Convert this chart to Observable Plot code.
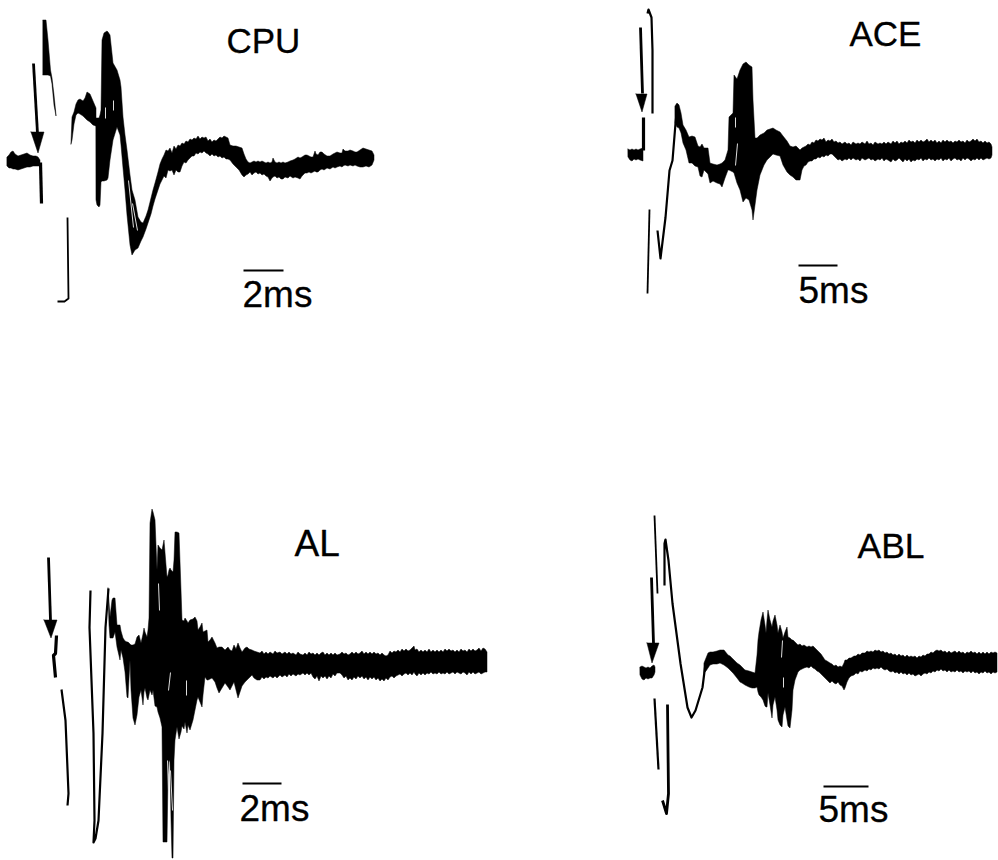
<!DOCTYPE html>
<html>
<head>
<meta charset="utf-8">
<style>html,body{margin:0;padding:0;background:#fff}svg{display:block}</style>
<script src="https://cdn.jsdelivr.net/npm/d3@7"></script>
<script src="https://cdn.jsdelivr.net/npm/@observablehq/plot@0.6"></script>
</head>
<body>
<div id="chart"></div>
<script>
// --- thick parts of the oscilloscope traces: [position, upper edge, lower edge]
const cpuBase = [[7,157,166],[9,155,168],[11,152,168],[13,151,169],[15,154,169],[18,156,170],[21,155,169],[24,154,168],[27,153,167],[30,155,167],[33,156,166],[36,156,166],[38,157,166],[40,160,166]];
const cpuUpper = [[43,20,75],[46,20,75],[48,40,75],[50.5,70,76],[52,78,84],[54,95,105],[56,115,116]];
const cpuEarly = [[71,143,144],[72,117,140],[74,112,124],[76,104,115],[78,100,113],[80,99,114],[83,101,116],[85,98,118],[87,92,120],[90,94,122],[93,101,125],[96,108,126]];
const cpuMain = [[96,118,200],[97,118,205],[99,118,207],[100,115,205],[101,110,182],[102,40,181],[104,33,181],[107,31,180],[108,32,178],[110,35,160],[113,63,140],[117,70,127],[120,80,135],[121,87,145],[123,117,168],[125,135,190],[127,150,215],[130,175,245],[132,190,255],[135,200,250],[138,217,248],[141,222,241],[143,223,237],[146,216,229],[148,210,223],[151,198,214],[153,190,206],[155,183,199],[158,172,190],[160,164,184],[162,159,180],[164,155,176],[166,150,178],[168,151,170],[170,148,171],[172,153,170],[174,146,175],[176,149,170],[178,145,172],[180,146,172],[182,143,166],[184,144,162],[186,141,163],[188,142,160],[190,139,158],[192,140,156],[194,138,156],[196,139,153],[198,136,154],[200,139,152],[202,137,153],[204,138,151],[206,137,153],[208,141,154],[210,139,156],[212,142,154],[214,140,156],[216,141,155],[218,139,157],[220,137,156],[222,138,158],[224,136,157],[226,137,159],[228,138,159],[230,145,160],[233,146,164],[236,146,167],[239,147,170],[242,148,175],[244,154,177],[246,159,175],[248,162,174],[250,163,172],[252,162,175],[254,161,173],[256,162,172],[258,161,174],[260,162,173],[262,161,175],[264,162,174],[266,163,176],[268,162,177],[270,163,181],[272,162,178],[273,158,177],[275,162,176],[277,163,178],[279,162,177],[281,163,179],[283,162,179],[285,163,177],[288,162,178],[290,161,176],[293,160,178],[295,159,177],[298,157,178],[300,158,179],[302,157,176],[305,155,173],[307,155,173],[309,156,172],[311,157,173],[313,157,172],[315,151,171],[316,154,172],[318,155,172],[320,152,170],[322,152,169],[324,154,170],[327,156,168],[330,156,169],[333,154,167],[335,153,168],[337,152,167],[340,153,166],[342,153,167],[343,149,166],[345,151,165],[348,151,166],[350,150,165],[353,151,166],[355,152,165],[357,152,166],[360,150,167],[363,148,167],[366,149,166],[369,150,167],[372,151,165],[374,155,160]];

const aceBase = [[628,149,157],[630,150,160],[632,149,161],[634,150,159],[636,149,160],[638,150,159],[640,149,160],[643,148,161]];
const aceMain = [[675,106,123],[677,103,127],[679,105,128],[681,113,133],[683,125,143],[686,130,150],[689,137,163],[692,136,163],[695,137,166],[698,146,167],[700,147,176],[702,144,177],[704,148,170],[708,148,174],[710,163,183],[713,164,181],[717,165,183],[720,164,184],[722,163,187],[725,160,178],[728,150,170],[729,117,170],[733,113,172],[734,75,173],[737,79,183],[740,70,190],[743,64,202],[746,62,198],[749,65,200],[752,67,210],[753,100,220],[755,138,205],[757,138,190],[760,135,175],[764,133,165],[767,130,160],[773,128,154],[776,130,155],[780,132,156],[783,136,165],[787,141,172],[790,146,175],[793,147,177],[796,146,180],[800,150,180],[802,148,170],[804,147,166],[806,146,165],[808,144,162],[810,145,161],[812,142,161],[814,143,159],[816,140,159],[818,141,157],[820,139,158],[822,140,156],[824,138,157],[826,142,155],[828,140,156],[830,141,154],[832,139,154],[834,142,156],[836,141,158],[838,143,160],[840,142,159],[842,144,161],[845,142,159],[847,144,160],[849,143,158],[851,145,160],[853,142,158],[856,144,160],[858,143,159],[860,144,161],[862,142,158],[865,144,160],[867,141,159],[869,144,158],[871,143,160],[873,145,159],[875,142,161],[878,144,159],[880,143,160],[882,144,158],[884,142,161],[886,144,159],[888,142,160],[891,144,162],[893,141,159],[895,143,161],[897,141,160],[899,144,158],[901,142,160],[903,143,162],[905,141,159],[907,143,161],[909,140,159],[911,142,162],[913,141,160],[915,143,161],[917,140,159],[919,142,160],[921,140,158],[923,142,161],[925,141,159],[927,139,160],[929,142,158],[931,140,160],[933,142,159],[935,140,161],[937,143,159],[939,141,160],[941,143,158],[943,140,161],[945,142,159],[947,140,160],[949,142,158],[951,141,161],[953,143,159],[955,141,158],[957,142,160],[959,140,159],[961,142,161],[963,141,158],[965,143,160],[967,140,158],[969,142,159],[971,141,161],[973,139,159],[975,141,160],[977,139,158],[979,142,160],[981,141,158],[983,143,160],[985,141,159],[987,143,158],[989,142,159],[991,144,158],[992,147,155]];

const alMain = [[108,588,592],[109,602,625],[110,617,638],[112,600,638],[113,598,638],[115,598,632],[117,625,647],[120,625,660],[121,631,650],[123,638,658],[125,641,672],[127,642,697],[128,642,698],[130,644,660],[131,645,690],[133,645,718],[135,644,725],[137,637,715],[139,635,697],[141,643,690],[143,634,705],[144,628,692],[145,632,688],[147,637,698],[148,630,700],[149,618,695],[150,523,690],[152,509,695],[153,512,690],[155,520,706],[157,570,707],[158,545,712],[160,548,718],[162,550,727],[163,545,842],[164,540,842],[166,565,842],[167,577,842],[168,575,775],[169,570,760],[170,568,762],[171,570,820],[172,571,858],[173,572,858],[174,560,760],[175,532,740],[177,532,727],[179,533,739],[181,590,732],[182,620,726],[184,621,729],[185,618,722],[187,621,733],[188,623,725],[190,620,730],[193,619,720],[195,617,710],[197,621,700],[198,630,697],[200,627,702],[202,623,707],[203,632,695],[205,631,677],[207,630,680],[208,642,680],[210,640,679],[212,637,678],[215,643,682],[217,648,688],[219,647,693],[222,647,688],[225,650,683],[228,647,687],[230,650,690],[232,651,686],[234,645,682],[236,649,690],[238,643,698],[240,648,692],[242,652,686],[245,648,682],[247,647,680],[249,649,678],[252,650,675],[254,651,678],[257,652,680],[260,653,680],[262,651,677],[264,654,679],[266,652,677],[268,654,678],[270,652,676],[273,654,678],[275,651,676],[277,653,678],[280,652,675],[282,654,677],[285,652,675],[287,654,677],[289,652,674],[291,654,676],[293,653,674],[296,655,676],[298,652,674],[300,654,675],[303,655,673],[305,653,675],[307,655,673],[309,652,675],[311,654,673],[313,653,677],[315,655,679],[317,653,676],[319,655,681],[321,653,676],[323,652,678],[325,655,676],[327,653,679],[329,655,676],[331,653,678],[333,655,674],[335,653,676],[337,655,673],[340,654,673],[342,652,675],[344,654,678],[346,653,676],[348,655,680],[350,654,678],[352,652,680],[354,654,677],[356,652,679],[358,654,676],[360,653,678],[362,651,676],[364,654,679],[366,652,677],[368,654,680],[370,652,677],[372,654,679],[374,652,677],[376,654,680],[378,653,678],[380,655,681],[382,653,679],[384,655,681],[386,656,678],[388,655,680],[390,651,677],[392,653,676],[394,651,678],[396,652,676],[398,650,675],[400,652,674],[402,649,676],[404,651,674],[406,649,673],[408,651,675],[410,650,673],[412,648,675],[414,646,672],[415,650,674],[417,649,676],[419,652,673],[421,650,675],[423,652,673],[425,650,675],[427,652,673],[429,649,674],[431,652,672],[433,650,674],[435,652,673],[437,650,674],[439,652,672],[441,650,674],[443,652,673],[445,649,674],[447,651,672],[449,649,674],[451,651,673],[453,650,672],[455,652,674],[457,650,672],[459,652,673],[461,649,674],[463,651,672],[465,650,673],[467,652,675],[469,649,672],[471,651,674],[473,649,672],[475,651,674],[477,650,673],[479,648,672],[481,651,674],[483,648,673],[485,649,672],[487,652,672]];

const ablBase = [[640,667,675],[642,666,679],[644,667,680],[646,668,678],[648,667,679],[650,668,678],[652,666,678],[654,665,675],[655,667,672]];
const ablMain = [[704,663,673],[706,658,671],[708,653,668],[710,652,665],[713,652,664],[717,651,664],[720,650,663],[724,650,665],[728,655,668],[730,656,670],[733,659,673],[737,663,678],[740,665,682],[742,667,683],[745,670,685],[749,671,687],[752,672,688],[755,673,688],[757,655,687],[758,640,692],[759,632,695],[761,620,697],[763,612,700],[765,625,706],[766,633,707],[767,620,707],[768,610,693],[770,620,705],[772,627,718],[773,621,705],[775,615,697],[777,625,710],[778,633,720],[780,625,725],[782,632,727],[783,638,715],[785,632,707],[787,627,720],[788,637,726],[790,638,728],[792,640,710],[793,640,690],[795,642,680],[798,645,672],[800,644,670],[802,646,669],[804,645,668],[807,647,667],[809,646,668],[811,647,666],[813,646,668],[815,648,669],[817,650,671],[819,652,672],[821,654,674],[823,657,676],[825,660,678],[827,661,680],[830,663,683],[832,664,681],[834,666,683],[836,665,684],[838,667,682],[840,666,685],[842,667,686],[844,663,690],[845,660,688],[847,660,682],[849,658,678],[851,658,676],[854,656,675],[856,656,673],[858,654,674],[860,655,671],[862,653,672],[865,653,670],[867,651,671],[869,652,669],[871,651,670],[873,652,668],[875,650,669],[877,651,668],[879,650,669],[881,652,667],[883,651,669],[885,653,670],[887,652,669],[889,654,671],[891,653,672],[893,655,671],[895,654,673],[897,656,672],[899,654,674],[901,656,672],[903,655,674],[905,657,673],[907,655,675],[909,657,673],[911,656,675],[913,657,674],[915,656,676],[917,658,675],[919,656,674],[921,657,676],[923,655,674],[925,656,673],[927,654,674],[929,654,672],[931,652,673],[933,653,671],[935,651,672],[937,650,670],[939,651,671],[941,650,669],[943,652,671],[945,651,670],[947,653,672],[949,651,670],[951,653,672],[953,652,671],[955,651,672],[957,653,670],[959,651,672],[961,653,671],[963,652,673],[965,654,671],[967,652,672],[969,653,671],[971,651,673],[973,653,671],[975,652,673],[977,654,672],[979,652,674],[981,654,672],[983,652,673],[985,654,671],[987,652,673],[989,654,672],[991,652,674],[993,653,672],[995,652,673],[997,653,672]];

// --- stimulus arrows: [position, shoulder, tip]
const cpuArrow = [[31,132,132],[38,132,153],[44,132,132]];
const aceArrow = [[636,94,94],[642,94,112],[647,94,94]];
const alArrow = [[44,620,620],[51,620,638],[57,620,620]];
const ablArrow = [[647,643,643],[652,643,663],[659,643,643]];

// --- thin parts of the traces: [position, level]
const cpuStem = [[40,162],[41,203]];
const cpuShaft = [[33,63],[37,133]];
const cpuThin = [[67,217],[68,298],[64,301],[57,301]];
const aceShaft = [[640,27],[642,93]];
const aceTop = [[647,13],[648,9],[651,17],[652,50],[652,113]];
const aceStem = [[643,117],[643,150]];
const aceThin = [[649,209],[647,293]];
const aceCurve = [[657,230],[660,258],[665,217],[669,170],[672,160],[675,123],[677,104]];
const alShaft = [[48,557],[50,620]];
const alStem = [[56,635],[55,653],[53,655],[55,677]];
const alThin = [[61,689],[65,720],[68,793],[67,805]];
const alCurve = [[90,590],[89,627],[93,733],[94,820],[93,842],[95,838],[98,820],[102,733],[105,627],[108,588]];
const ablShaft = [[651,577],[653,643]];
const ablTop = [[654,515],[657,593]];
const ablLow = [[654,698],[658,769]];
const ablCurve = [[664,585],[664,543],[665,539],[668,560],[672,603],[680,663],[687,707],[691,717],[695,710],[702,687],[705,663]];
const ablLoop = [[667,704],[668,793],[666,813],[662,800]];

// --- pale gaps between the superimposed sweeps
const gaps = [
  [[128,180],[133,227]],[[132,203],[137,230]],[[105,107],[105,118]],[[113,100],[113,110]],
  [[737,143],[735,165]],[[735,117],[735,127]],
  [[158,583],[159,610]],[[170,672],[168,690]],[[167,760],[168,790]],[[170,770],[172,810]],[[186,680],[186,695]],
  [[782,640],[781,657]],[[783,677],[783,687]]
];

// --- time scale bars and labels
const scaleBars = [[[243,270],[283,270]],[[798,265],[837,265]],[[242,783],[281,783]],[[823,786],[868,786]]];
const regionNames = ["CPU","ACE","AL","ABL"];
const regionX = [226,849,294,857];
const regionY = [52,45,555,557];
const regionSize = [35,35,37,35.5];
const timeNames = ["2ms","5ms","2ms","5ms"];
const timeX = [242,798,239,818];
const timeY = [306,302,820,821];

const bands = [cpuBase,cpuUpper,cpuEarly,cpuMain,aceBase,aceMain,alMain,ablBase,ablMain,cpuArrow,aceArrow,alArrow,ablArrow];
const bandRows = bands.flatMap((b,id)=>b.map(([x,t,b2])=>({id,x,t,b:b2})));
const path = (list,w)=>list.flatMap((p,i)=>p.map(([x,y])=>({id:w+"-"+i,x,y})));
const widest = path([cpuStem,aceStem,alStem],3.2);
const medium = path([cpuShaft,aceShaft,alShaft,ablShaft,ablLoop],2.8);
const thin = path([alCurve,aceCurve,ablCurve,ablLow,alThin,aceTop],2.2);
const finest = path([cpuThin,aceThin,ablTop],1.8);
const pale = path(gaps,1);
const bars = path(scaleBars,2);
const labels = regionNames.map((t,i)=>({t,x:regionX[i],y:regionY[i],s:regionSize[i]}));
const times = timeNames.map((t,i)=>({t,x:timeX[i],y:timeY[i]}));

const lineOf = (d,w,color="#000")=>Plot.line(d,{x:"x",y:"y",z:"id",stroke:color,strokeWidth:w,curve:"linear",strokeLinejoin:"round",strokeLinecap:"butt"});

const chart = Plot.plot({
  width:998,height:860,margin:0,
  style:{background:"#fff"},
  x:{domain:[0,998],range:[0,998],axis:null},
  y:{domain:[860,0],range:[860,0],axis:null},
  marks:[
    Plot.areaY(bandRows,{x:"x",y1:"t",y2:"b",z:"id",fill:"#000",stroke:"#000",strokeWidth:0.5,curve:"linear"}),
    lineOf(widest,3.2),lineOf(medium,2.8),lineOf(thin,2.2),lineOf(finest,1.8),
    lineOf(pale,1,"#ddd"),
    lineOf(bars,2),
    Plot.text(labels,{x:"x",y:"y",text:"t",fontSize:"s",textAnchor:"start",lineAnchor:"bottom",fontFamily:"Liberation Sans",fill:"#000",stroke:"#000",strokeWidth:0.3}),
    Plot.text(times,{x:"x",y:"y",text:"t",fontSize:37,textAnchor:"start",lineAnchor:"bottom",fontFamily:"Liberation Sans",fill:"#000",stroke:"#000",strokeWidth:0.3})
  ]
});
document.getElementById("chart").appendChild(chart);
</script>
</body>
</html>
